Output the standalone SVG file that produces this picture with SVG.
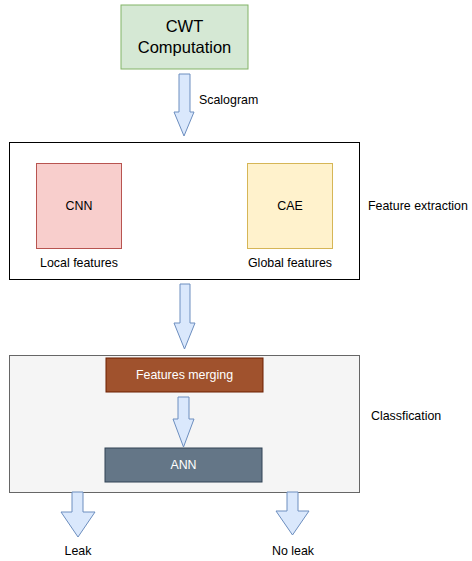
<svg xmlns="http://www.w3.org/2000/svg" width="472" height="561" viewBox="0 0 472 561">
<style>
text{font-family:"Liberation Sans",Arial,sans-serif;font-size:12.4px;fill:#000;dominant-baseline:central}
.c{text-anchor:middle}
.w{fill:#fff}
.arrow{fill:#dae8fc;stroke:#6c8ebf;stroke-width:1}
</style>
<rect width="472" height="561" fill="#fff"/>
<g id="cwt">
<rect x="121" y="5" width="127" height="64" fill="#d5e8d4" stroke="#82b366"/>
<text class="c" x="184.5" y="26" style="font-size:16.5px">CWT</text>
<text class="c" x="184.5" y="47" style="font-size:16.5px">Computation</text>
</g>
<g id="feature-extraction">
<rect x="9.5" y="142.5" width="350" height="137" fill="#fff" stroke="#000"/>
<text x="368" y="206">Feature extraction</text>
</g>
<g id="cnn">
<rect x="36.5" y="163.5" width="85" height="85" fill="#f8cecc" stroke="#b85450"/>
<text class="c" x="79" y="206">CNN</text>
<text class="c" x="79" y="263">Local features</text>
</g>
<g id="cae">
<rect x="247.5" y="163.5" width="85" height="85" fill="#fff2cc" stroke="#d6b656"/>
<text class="c" x="290" y="206">CAE</text>
<text class="c" x="290" y="263">Global features</text>
</g>
<g id="classification">
<rect x="9.5" y="355.5" width="350" height="137" fill="#f5f5f5" stroke="#666"/>
<text x="371" y="416">Classfication</text>
</g>
<g id="features-merging">
<rect x="106" y="358" width="157" height="34" fill="#a0522d" stroke="#6d1f00"/>
<text class="c w" x="184.5" y="375">Features merging</text>
</g>
<g id="ann">
<rect x="105" y="448" width="157" height="34" fill="#647687" stroke="#314354"/>
<text class="c w" x="183.5" y="465">ANN</text>
</g>
<g id="connectors">
<path class="arrow" d="M179,74 H190 V112 H194 L184,136 L174,112 H179 Z"/>
<text x="199" y="100">Scalogram</text>
<path class="arrow" d="M180,284 H190 V323 H195 L184.5,349 L174,323 H180 Z"/>
<path class="arrow" d="M178,397 H189 V419 H194 L183.5,447 L173,419 H178 Z"/>
<path class="arrow" d="M72,492 H83 V512 H95 L78,537 L61,512 H72 Z"/>
<path class="arrow" d="M287,492 H298 V511 H309 L292.5,535 L276,511 H287 Z"/>
</g>
<g id="outputs">
<text class="c" x="78" y="551">Leak</text>
<text class="c" x="293" y="551">No leak</text>
</g>
</svg>
